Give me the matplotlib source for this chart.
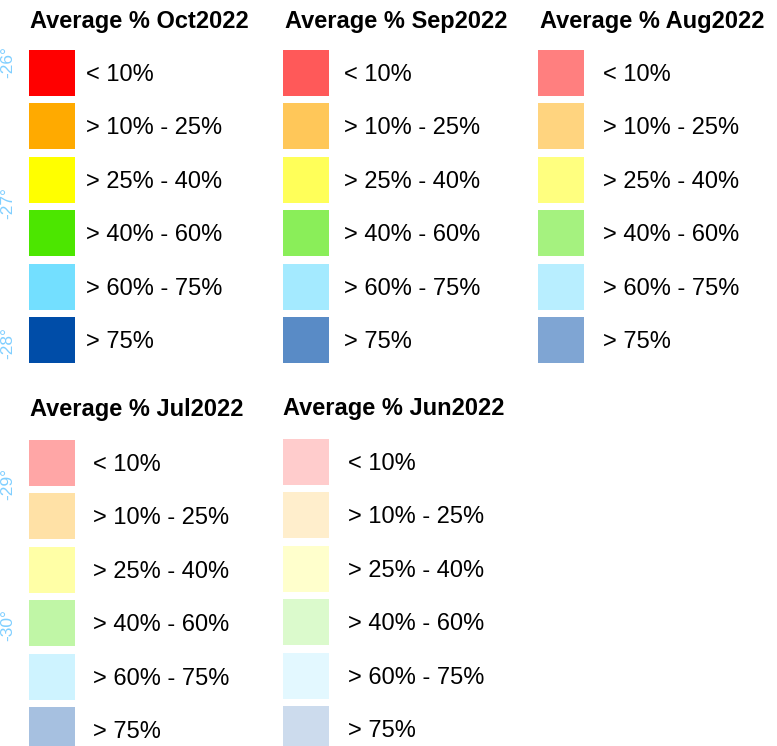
import matplotlib
matplotlib.use('Agg')
import matplotlib.pyplot as plt
from matplotlib.patches import Rectangle

plt.rcParams['font.family'] = ['Liberation Sans', 'DejaVu Sans']

# legend data
months = ['Oct2022', 'Sep2022', 'Aug2022', 'Jul2022', 'Jun2022']
opacity = [1.0, 0.65, 0.5, 0.35, 0.2]
classes = ['< 10%', '> 10% - 25%', '> 25% - 40%', '> 40% - 60%', '> 60% - 75%', '> 75%']
base_colors = ['#FF0000', '#FFAA00', '#FFFF00', '#4CE600', '#73DFFF', '#004DA8']
lat_ticks = [-26, -27, -28, -29, -30]

# layout (pixels): swatch x, label x, title x, title baseline, first swatch top
layout = [
    (29, 86, 30, 28, 50),
    (283, 344, 285, 28, 50),
    (538, 603, 540, 28, 50),
    (29, 93, 30, 416, 440),
    (283, 348, 283, 415, 439),
]
W, H = 777, 746
sw, step = 46, 53.4

fig = plt.figure(figsize=(W / 100, H / 100), dpi=100)
ax = fig.add_axes([0, 0, 1, 1])
ax.set_xlim(0, W)
ax.set_ylim(H, 0)
ax.axis('off')

for m, a, (sx, lx, tx, ty, top) in zip(months, opacity, layout):
    ax.text(tx, ty, 'Average % ' + m, fontsize=17, fontweight='bold',
            ha='left', va='baseline')
    for i, (lab, c) in enumerate(zip(classes, base_colors)):
        y0 = top + i * step
        ax.add_patch(Rectangle((sx, y0), sw, sw, facecolor=c, alpha=a,
                               edgecolor='none'))
        ax.text(lx, y0 + sw / 2 + 8, lab, fontsize=17, ha='left', va='baseline')

# latitude labels of the underlying map along the left edge
lax = fig.add_axes([15 / W, 0, 0.0005, 1])
lax.patch.set_visible(False)
for s in lax.spines.values():
    s.set_visible(False)
px_per_deg = 140.75
lax.set_ylim(-26 - (H - 62) / px_per_deg, -26 + 62 / px_per_deg)
lax.set_xticks([])
lax.set_yticks(lat_ticks)
lax.set_yticklabels([f'{v}°' for v in lat_ticks], rotation=90, va='center',
                    color='#80CFFF', fontsize=12.5)
lax.tick_params(axis='y', length=0, pad=0)

fig.savefig('out.png', dpi=100)
